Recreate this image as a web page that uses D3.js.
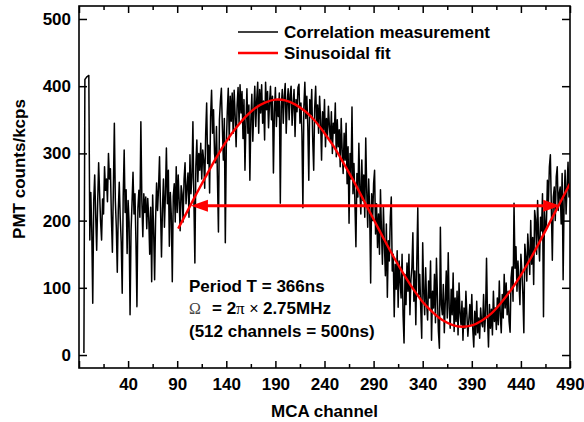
<!DOCTYPE html>
<html>
<head>
<meta charset="utf-8">
<script src="https://cdn.jsdelivr.net/npm/d3@7"></script>
<style>
body { margin: 0; background: #fff; }
svg text { font-family: "Liberation Sans", Arial, sans-serif; font-weight: bold; font-size: 17px; fill: #000; }
</style>
</head>
<body>
<svg id="chart" width="584" height="422"></svg>
<script>
//Measured counts, one value per MCA channel starting at startChannel
var startChannel = -5;
var counts = [
    3, 410, 412, 414, 415, 416, 171, 242, 185, 77,
    230, 268, 208, 156, 225, 286, 240, 198, 171, 232,
    210, 280, 245, 262, 228, 300, 262, 277, 205, 153,
    248, 345, 230, 190, 123, 215, 257, 204, 168, 92,
    236, 305, 212, 246, 151, 230, 198, 60, 185, 226,
    272, 210, 240, 168, 72, 219, 245, 205, 347, 230,
    176, 240, 212, 235, 188, 233, 205, 150, 220, 109,
    238, 186, 112, 202, 256, 215, 248, 295, 220, 146,
    218, 262, 190, 240, 308, 225, 275, 162, 242, 208,
    109, 236, 255, 198, 280, 212, 268, 230, 185, 252,
    240, 198, 262, 286, 225, 250, 271, 205, 298, 240,
    265, 347, 230, 137, 282, 320, 258, 300, 275, 315,
    262, 305, 290, 248, 330, 375, 285, 312, 241, 355,
    394, 330, 365, 300, 286, 340, 262, 183, 350, 378,
    397, 339, 290, 352, 167, 310, 362, 397, 320, 385,
    348, 390, 330, 394, 356, 310, 372, 398, 345, 402,
    360, 392, 322, 380, 275, 345, 396, 330, 372, 260,
    350, 388, 318, 365, 400, 340, 380, 406, 330, 395,
    360, 402, 345, 378, 320, 406, 365, 392, 338, 375,
    400, 350, 385, 271, 362, 398, 340, 380, 355, 390,
    226, 370, 395, 345, 385, 404, 330, 375, 396, 350,
    388, 400, 342, 372, 395, 325, 380, 362, 398, 403,
    345, 375, 330, 219, 370, 406, 352, 385, 340, 260,
    380, 358, 395, 320, 275, 368, 400, 345, 372, 330,
    385, 350, 290, 362, 335, 380, 310, 352, 325, 370,
    340, 318, 362, 300, 345, 330, 375, 295, 350, 310,
    335, 280, 352, 305, 270, 330, 290, 345, 255, 310,
    196, 300, 262, 369, 240, 285, 225, 161, 270, 235,
    315, 248, 210, 290, 230, 268, 205, 323, 245, 190,
    262, 215, 107, 240, 200, 255, 275, 180, 225, 160,
    210, 150, 246, 185, 135, 220, 165, 118, 195, 86,
    170, 140, 205, 235, 125, 150, 57, 135, 98, 155,
    71, 140, 110, 85, 150, 60, 18, 120, 75, 137,
    95, 150, 60, 112, 130, 182, 80, 125, 45, 140,
    219, 90, 120, 70, 25, 167, 95, 60, 130, 78,
    52, 110, 85, 140, 22, 95, 70, 120, 48, 144,
    88, 35, 10, 190, 75, 60, 105, 33, 80, 125,
    55, 152, 70, 40, 98, 60, 122, 35, 85, 50,
    95, 30, 107, 62, 45, 80, 22, 70, 40, 95,
    60, 28, 52, 75, 45, 90, 38, 12, 65, 30,
    80, 33, 55, 25, 70, 48, 42, 90, 35, 60,
    144, 55, 12, 75, 40, 68, 30, 95, 50, 70,
    38, 85, 45, 110, 60, 33, 90, 55, 120, 70,
    107, 60, 95, 50, 34, 115, 131, 80, 226, 129,
    161, 95, 140, 110, 75, 150, 125, 90, 33, 165,
    146, 110, 180, 153, 120, 200, 135, 175, 105, 215,
    201, 150, 230, 176, 140, 205, 185, 240, 57, 215,
    185, 196, 260, 225, 280, 298, 220, 141, 235, 250,
    200, 265, 280, 215, 240, 250, 195, 270, 112, 230,
    275, 210, 250, 287, 235, 245
];

//Sinusoidal fit
var fitChannels = [91, 100, 110, 120, 130, 140, 150, 160, 170, 180, 190, 200, 210, 220, 230, 240, 250, 260, 270, 280,
    290, 300, 310, 320, 330, 340, 350, 360, 370, 380, 390, 400, 410, 420, 430, 440, 450, 460, 470, 480, 490];
var fitCounts = [188, 213, 241, 268, 294, 318, 338, 355, 368, 376, 380, 379, 373, 363, 349, 330, 309, 284, 258, 230,
    202, 174, 147, 122, 99, 79, 64, 52, 45, 42, 44, 51, 62, 78, 97, 119, 144, 171, 199, 227, 255];

//Axis ticks
var xMajorTicks = [-10, 40, 90, 140, 190, 240, 290, 340, 390, 440, 490];
var xMinorTicks = [15, 65, 115, 165, 215, 265, 315, 365, 415, 465];
var yMajorTicks = [0, 100, 200, 300, 400, 500];

//Period arrow (channels of the two tips, level in kcps)
var arrowChannels = [104, 480];
var arrowLevel = 222;

var legendLabels = ["Correlation measurement", "Sinusoidal fit"];
var legendColors = ["#000", "#ff0000"];

//Plot frame in pixels
var plotLeft = 79, plotRight = 570, plotTop = 6, plotBottom = 368;

var svg = d3.select("#chart");

var x = d3.scaleLinear().domain([-10, 490]).range([plotLeft, plotRight]);
var y = d3.scaleLinear().domain([-19.3, 519.3]).range([plotBottom, plotTop]);

svg.append("clipPath").attr("id", "plotArea")
    .append("rect")
    .attr("x", plotLeft).attr("y", plotTop)
    .attr("width", plotRight - plotLeft).attr("height", plotBottom - plotTop);

//Measurement trace
var trace = d3.line()
    .x(function(d, i) { return x(startChannel + i); })
    .y(function(d) { return y(d); });

svg.append("path")
    .datum(counts)
    .attr("clip-path", "url(#plotArea)")
    .attr("fill", "none")
    .attr("stroke", "#000")
    .attr("stroke-width", 1.5)
    .attr("stroke-linejoin", "round")
    .attr("d", trace);

//Fit curve
var fitLine = d3.line()
    .curve(d3.curveCatmullRom)
    .x(function(d, i) { return x(fitChannels[i]); })
    .y(function(d) { return y(d); });

svg.append("path")
    .datum(fitCounts)
    .attr("clip-path", "url(#plotArea)")
    .attr("fill", "none")
    .attr("stroke", "#ff0000")
    .attr("stroke-width", 2.4)
    .attr("d", fitLine);

//Double headed arrow for one period
var ax0 = x(arrowChannels[0]), ax1 = x(arrowChannels[1]), ay = y(arrowLevel);
var headLen = 17, headHalf = 6;
svg.append("line")
    .attr("x1", ax0 + headLen - 2).attr("x2", ax1 - headLen + 2)
    .attr("y1", ay).attr("y2", ay)
    .attr("stroke", "#ff0000")
    .attr("stroke-width", 3);
svg.append("path")
    .attr("fill", "#ff0000")
    .attr("d", "M" + ax0 + "," + ay + "L" + (ax0 + headLen) + "," + (ay - headHalf) + "L" + (ax0 + headLen) + "," + (ay + headHalf) + "Z");
svg.append("path")
    .attr("fill", "#ff0000")
    .attr("d", "M" + ax1 + "," + ay + "L" + (ax1 - headLen) + "," + (ay - headHalf) + "L" + (ax1 - headLen) + "," + (ay + headHalf) + "Z");

//Axes, all ticks pointing inward
function styleAxis(g) {
    g.select(".domain").remove();
    g.attr("font-size", null).attr("font-family", null);
    g.selectAll("line").attr("stroke", "#000").attr("stroke-width", 1.5);
}

svg.append("g")
    .attr("transform", "translate(0," + plotBottom + ")")
    .call(d3.axisBottom(x).tickValues(xMajorTicks).tickSize(-7).tickPadding(10)
        .tickFormat(function(d) { return d < 0 ? "" : d; }))
    .call(styleAxis);
svg.append("g")
    .attr("transform", "translate(0," + plotBottom + ")")
    .call(d3.axisBottom(x).tickValues(xMinorTicks).tickSize(-4).tickFormat(""))
    .call(styleAxis);
svg.append("g")
    .attr("transform", "translate(0," + plotTop + ")")
    .call(d3.axisTop(x).tickValues(xMajorTicks).tickSize(-7).tickFormat(""))
    .call(styleAxis);
svg.append("g")
    .attr("transform", "translate(0," + plotTop + ")")
    .call(d3.axisTop(x).tickValues(xMinorTicks).tickSize(-4).tickFormat(""))
    .call(styleAxis);
svg.append("g")
    .attr("transform", "translate(" + plotLeft + ",0)")
    .call(d3.axisLeft(y).tickValues(yMajorTicks).tickSize(-8).tickPadding(8))
    .call(styleAxis);
svg.append("g")
    .attr("transform", "translate(" + plotRight + ",0)")
    .call(d3.axisRight(y).tickValues(yMajorTicks).tickSize(-8).tickFormat(""))
    .call(styleAxis);

svg.append("rect")
    .attr("x", plotLeft).attr("y", plotTop)
    .attr("width", plotRight - plotLeft).attr("height", plotBottom - plotTop)
    .attr("fill", "none")
    .attr("stroke", "#000")
    .attr("stroke-width", 1.6);

//Axis titles
svg.append("text")
    .attr("x", (plotLeft + plotRight) / 2).attr("y", 417)
    .attr("text-anchor", "middle")
    .text("MCA channel");
svg.append("text")
    .attr("transform", "translate(25,169) rotate(-90)")
    .attr("text-anchor", "middle")
    .text("PMT counts/kcps");

//Legend
var legend = svg.append("g").selectAll("g")
    .data(legendLabels)
    .enter()
    .append("g")
    .attr("transform", function(d, i) { return "translate(238," + (32 + i * 21) + ")"; });
legend.append("line")
    .attr("x1", 0).attr("x2", 40)
    .attr("stroke", function(d, i) { return legendColors[i]; })
    .attr("stroke-width", function(d, i) { return i == 0 ? 1.5 : 2.4; });
legend.append("text")
    .attr("x", 46).attr("y", 6)
    .text(function(d) { return d; });

//Annotation
svg.append("text").attr("x", 189).attr("y", 292).text("Period T = 366ns");
var omega = svg.append("text").attr("x", 189).attr("y", 314);
omega.append("tspan")
    .style("font-family", "'Liberation Serif', 'DejaVu Serif', serif")
    .style("font-weight", "normal").style("font-size", "16px").style("fill", "#444")
    .text("Ω");
omega.append("tspan").attr("x", 212).text("= 2");
omega.append("tspan")
    .style("font-family", "'Liberation Serif', 'DejaVu Serif', serif")
    .style("font-weight", "normal").style("font-size", "17px")
    .text("π");
omega.append("tspan")
    .style("font-weight", "normal").style("font-size", "16px")
    .text(" × ");
omega.append("tspan").text("2.75MHz");
svg.append("text").attr("x", 189).attr("y", 337).text("(512 channels = 500ns)");
</script>
</body>
</html>
